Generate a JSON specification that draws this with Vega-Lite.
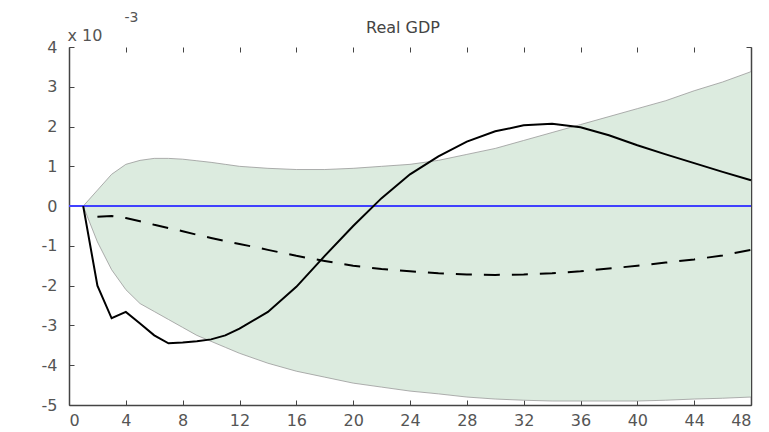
{
  "$schema": "https://vega.github.io/schema/vega-lite/v6.json",
  "width": 682,
  "height": 358,
  "autosize": {"type": "none"},
  "padding": {"left": 69, "top": 47, "right": 18, "bottom": 27},
  "background": "white",
  "title": {"text": "Real GDP", "fontSize": 16, "font": "DejaVu Sans", "fontWeight": "normal", "color": "#444", "offset": -26, "dx": -7},
  "config": {
    "view": {"stroke": null},
    "axis": {"grid": false, "domainColor": "#444", "tickColor": "#444", "labelColor": "#555", "labelFont": "DejaVu Sans", "labelFontSize": 16, "titleFont": "DejaVu Sans"}
  },
  "resolve": {"scale": {"x": "independent", "y": "independent"}},
  "data": {"values": [
    {"t": 1, "lo": 0, "hi": 0, "irf": 0, "dash": null},
    {"t": 2, "lo": -0.9, "hi": 0.4, "irf": -2.0, "dash": -0.27},
    {"t": 3, "lo": -1.6, "hi": 0.8, "irf": -2.82, "dash": -0.25},
    {"t": 4, "lo": -2.1, "hi": 1.05, "irf": -2.66, "dash": -0.3},
    {"t": 5, "lo": -2.45, "hi": 1.15, "irf": -2.95, "dash": -0.38},
    {"t": 6, "lo": -2.65, "hi": 1.2, "irf": -3.25, "dash": -0.47},
    {"t": 7, "lo": -2.85, "hi": 1.2, "irf": -3.45, "dash": -0.55},
    {"t": 8, "lo": -3.05, "hi": 1.18, "irf": -3.43, "dash": -0.63},
    {"t": 9, "lo": -3.25, "hi": 1.14, "irf": -3.4, "dash": -0.72},
    {"t": 10, "lo": -3.4, "hi": 1.1, "irf": -3.35, "dash": -0.8},
    {"t": 11, "lo": -3.55, "hi": 1.05, "irf": -3.25, "dash": -0.88},
    {"t": 12, "lo": -3.7, "hi": 1.0, "irf": -3.08, "dash": -0.95},
    {"t": 14, "lo": -3.95, "hi": 0.95, "irf": -2.66, "dash": -1.1},
    {"t": 16, "lo": -4.15, "hi": 0.92, "irf": -2.03, "dash": -1.25},
    {"t": 18, "lo": -4.3, "hi": 0.92, "irf": -1.25, "dash": -1.38},
    {"t": 20, "lo": -4.45, "hi": 0.95, "irf": -0.5, "dash": -1.5},
    {"t": 22, "lo": -4.55, "hi": 1.0, "irf": 0.2, "dash": -1.58},
    {"t": 24, "lo": -4.65, "hi": 1.05, "irf": 0.8, "dash": -1.64},
    {"t": 26, "lo": -4.72, "hi": 1.15, "irf": 1.25, "dash": -1.69},
    {"t": 28, "lo": -4.8, "hi": 1.3, "irf": 1.62, "dash": -1.72},
    {"t": 30, "lo": -4.85, "hi": 1.45, "irf": 1.88, "dash": -1.73},
    {"t": 32, "lo": -4.88, "hi": 1.65, "irf": 2.03, "dash": -1.72},
    {"t": 34, "lo": -4.9, "hi": 1.85, "irf": 2.07, "dash": -1.69},
    {"t": 36, "lo": -4.9, "hi": 2.05, "irf": 1.98, "dash": -1.64},
    {"t": 38, "lo": -4.9, "hi": 2.25, "irf": 1.78, "dash": -1.57},
    {"t": 40, "lo": -4.9, "hi": 2.45, "irf": 1.53, "dash": -1.5},
    {"t": 42, "lo": -4.88, "hi": 2.65, "irf": 1.3, "dash": -1.42},
    {"t": 44, "lo": -4.85, "hi": 2.9, "irf": 1.08, "dash": -1.34},
    {"t": 46, "lo": -4.83, "hi": 3.12, "irf": 0.86, "dash": -1.24},
    {"t": 48, "lo": -4.8, "hi": 3.38, "irf": 0.65, "dash": -1.1}
  ]},
  "layer": [
    {
      "mark": {"type": "area", "color": "#dcebdf"},
      "encoding": {
        "x": {"field": "t", "type": "quantitative", "scale": {"domain": [0, 48], "nice": false}, "axis": {"values": [0,4,8,12,16,20,24,28,32,36,40,44,48], "tickSize": -5, "labelPadding": 12, "title": null, "domainWidth": 1.5}},
        "y": {"field": "lo", "type": "quantitative", "scale": {"domain": [-5, 4], "nice": false}, "axis": {"values": [-5,-4,-3,-2,-1,0,1,2,3,4], "labelExpr": "toString(datum.value)", "tickSize": -5, "labelPadding": 17, "title": "x 10", "titleAngle": 0, "titleX": -2, "titleY": -7, "titleAlign": "left", "titleBaseline": "alphabetic", "titleFontSize": 16, "titleFontWeight": "normal", "titleColor": "#555", "domainWidth": 1.5}},
        "y2": {"field": "hi"}
      }
    },
    {
      "mark": {"type": "line", "color": "#999", "strokeWidth": 0.8},
      "encoding": {
        "x": {"field": "t", "type": "quantitative", "scale": {"domain": [0, 48], "nice": false}, "axis": {"orient": "top", "values": [0,4,8,12,16,20,24,28,32,36,40,44,48], "labels": false, "domain": false, "tickSize": -5, "title": "-3", "titleX": 55, "titleY": -26, "titleAlign": "left", "titleBaseline": "alphabetic", "titleFontSize": 14, "titleFontWeight": "normal", "titleColor": "#555"}},
        "y": {"field": "hi", "type": "quantitative", "scale": {"domain": [-5, 4], "nice": false}, "axis": {"orient": "right", "values": [-5,-4,-3,-2,-1,0,1,2,3,4], "labels": false, "tickSize": -5, "title": null, "domainWidth": 1.5}}
      }
    },
    {
      "mark": {"type": "line", "color": "#999", "strokeWidth": 0.8},
      "encoding": {
        "x": {"field": "t", "type": "quantitative", "scale": {"domain": [0, 48], "nice": false}, "axis": null},
        "y": {"field": "lo", "type": "quantitative", "scale": {"domain": [-5, 4], "nice": false}, "axis": null}
      }
    },
    {
      "mark": {"type": "rule", "color": "#4040ff", "strokeWidth": 1},
      "encoding": {"y": {"datum": 0, "type": "quantitative", "scale": {"domain": [-5, 4], "nice": false}, "axis": null}}
    },
    {
      "mark": {"type": "line", "color": "black", "strokeWidth": 2, "strokeDash": [16, 12]},
      "encoding": {
        "x": {"field": "t", "type": "quantitative", "scale": {"domain": [0, 48], "nice": false}, "axis": null},
        "y": {"field": "dash", "type": "quantitative", "scale": {"domain": [-5, 4], "nice": false}, "axis": null}
      }
    },
    {
      "mark": {"type": "line", "color": "black", "strokeWidth": 2},
      "encoding": {
        "x": {"field": "t", "type": "quantitative", "scale": {"domain": [0, 48], "nice": false}, "axis": null},
        "y": {"field": "irf", "type": "quantitative", "scale": {"domain": [-5, 4], "nice": false}, "axis": null}
      }
    }
  ]
}
